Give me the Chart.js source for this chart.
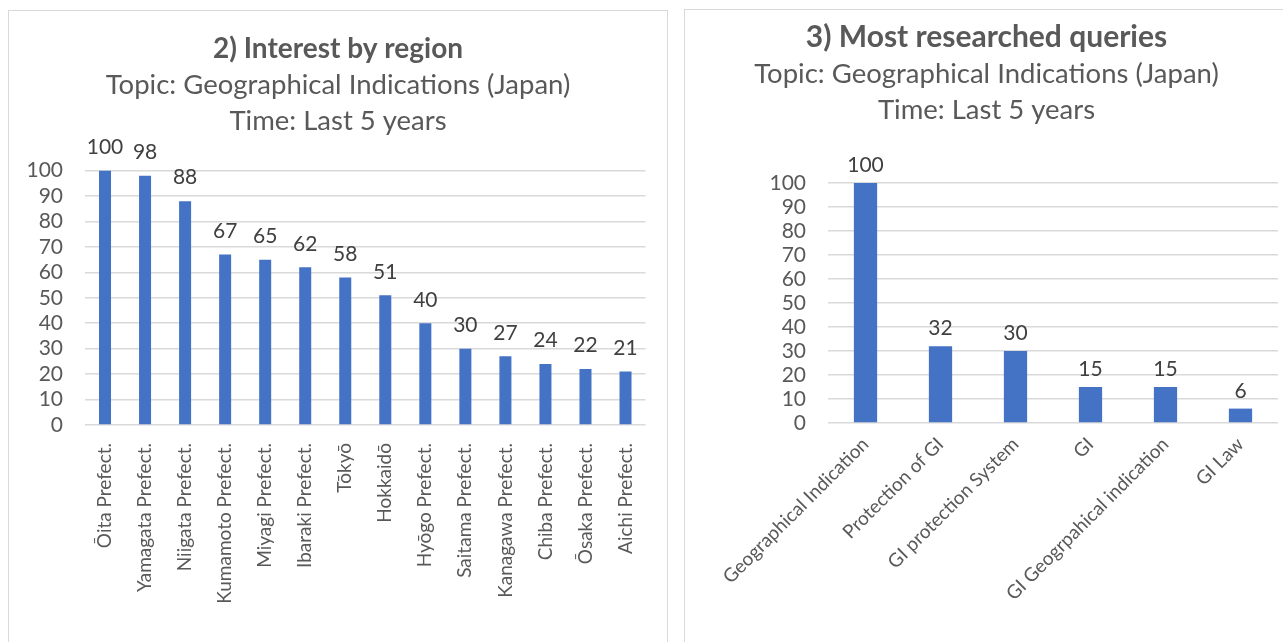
<!DOCTYPE html>
<html>
<head>
<meta charset="utf-8">
<script src="https://cdn.jsdelivr.net/npm/chart.js@4"></script>
<style>
    body { margin: 0; background: #fff; width: 1283px; height: 642px; overflow: hidden; position: relative; }
    .panel { position: absolute; border: 1px solid #d9d9d9; background: #fff; }
    #panel-region { left: 8px; top: 10px; width: 658px; height: 640px; }
    #panel-queries { left: 684px; top: 9px; width: 610px; height: 640px; }
    canvas { display: block; }
</style>
</head>
<body>
<div class="panel" id="panel-region"><canvas id="regionChart" width="658" height="631"></canvas></div>
<div class="panel" id="panel-queries"><canvas id="queriesChart" width="598" height="632"></canvas></div>

<script>
// Data
const regions = ['Ōita Prefect.', 'Yamagata Prefect.', 'Niigata Prefect.', 'Kumamoto Prefect.', 'Miyagi Prefect.',
    'Ibaraki Prefect.', 'Tōkyō', 'Hokkaidō', 'Hyōgo Prefect.', 'Saitama Prefect.', 'Kanagawa Prefect.',
    'Chiba Prefect.', 'Ōsaka Prefect.', 'Aichi Prefect.'];
const regionValues = [100, 98, 88, 67, 65, 62, 58, 51, 40, 30, 27, 24, 22, 21];

const queries = ['Geographical Indication', 'Protection of GI', 'GI protection System', 'GI',
    'GI Geogrpahical indication', 'GI Law'];
const queryValues = [100, 32, 30, 15, 15, 6];

const subtitleLines = ['Topic: Geographical Indications (Japan)', 'Time: Last 5 years'];

// Style
const FONT = "Lato, 'Open Sans', sans-serif";
const BAR_COLOR = '#4472C4';
const TEXT_COLOR = '#595959';
const GRID_COLOR = '#d9d9d9';

// value labels above each bar
const valueLabels = {
    id: 'valueLabels',
    afterDatasetsDraw(chart, args, opts) {
        const ctx = chart.ctx;
        const meta = chart.getDatasetMeta(0);
        const values = chart.data.datasets[0].data;
        ctx.save();
        ctx.font = opts.size + 'px ' + FONT;
        ctx.fillStyle = '#404040';
        ctx.textAlign = 'center';
        ctx.textBaseline = 'bottom';
        meta.data.forEach((bar, i) => {
            ctx.fillText(values[i], bar.x, bar.y - opts.offset);
        });
        ctx.restore();
    }
};

function makeChart(id, cfg) {
    const scales = {
        y: {
            min: 0,
            max: 100,
            ticks: {
                stepSize: 10,
                autoSkip: false,
                color: TEXT_COLOR,
                font: { family: FONT, size: cfg.tickSize },
                padding: 22
            },
            grid: { color: GRID_COLOR, lineWidth: 1.5, drawTicks: false },
            border: { display: false },
            afterFit: s => { s.width = cfg.yWidth; }
        },
        x: {
            ticks: {
                color: TEXT_COLOR,
                font: { family: FONT, size: cfg.xSize },
                minRotation: cfg.rotation,
                maxRotation: cfg.rotation,
                autoSkip: false,
                padding: cfg.xPad
            },
            grid: { display: false, drawTicks: false },
            border: { display: false },
            afterFit: s => { s.height = cfg.xHeight; }
        }
    };
    // empty spacer on the right so the titles stay centred on the whole panel
    if (cfg.rightGap) {
        scales.gap = {
            position: 'right',
            ticks: { display: false },
            grid: { display: false, drawTicks: false },
            border: { display: false },
            afterFit: s => { s.width = cfg.rightGap; }
        };
    }

    return new Chart(document.getElementById(id), {
        type: 'bar',
        data: {
            labels: cfg.labels,
            datasets: [{
                data: cfg.values,
                backgroundColor: BAR_COLOR,
                barPercentage: cfg.barPct,
                categoryPercentage: 1
            }]
        },
        options: {
            responsive: false,
            animation: false,
            events: [],
            layout: { padding: cfg.padding },
            plugins: {
                legend: { display: false },
                tooltip: { enabled: false },
                title: {
                    display: true,
                    text: cfg.title,
                    color: TEXT_COLOR,
                    font: { family: FONT, size: cfg.titleSize, weight: 'bold', lineHeight: 1.2 },
                    padding: { top: 0, bottom: 0 }
                },
                subtitle: {
                    display: true,
                    text: subtitleLines,
                    color: TEXT_COLOR,
                    font: { family: FONT, size: cfg.subSize, lineHeight: 36 / cfg.subSize },
                    padding: cfg.subPadding
                },
                valueLabels: { size: cfg.valueSize, offset: cfg.valueOffset }
            },
            scales: scales
        },
        plugins: [valueLabels]
    });
}

makeChart('regionChart', {
    labels: regions,
    values: regionValues,
    title: '2) Interest by region',
    titleSize: 28,
    subSize: 27.5,
    subPadding: { top: 2, bottom: 31 },
    padding: { top: 21, right: 0, left: 0, bottom: 0 },
    tickSize: 21,
    xSize: 19,
    valueSize: 21,
    valueOffset: 13,
    yWidth: 76,
    rightGap: 19,
    xHeight: 217,
    rotation: 90,
    xPad: 18,
    barPct: 0.3
});

makeChart('queriesChart', {
    labels: queries,
    values: queryValues,
    title: '3) Most researched queries',
    titleSize: 30,
    subSize: 27.5,
    subPadding: { top: 1, bottom: 55 },
    padding: { top: 9, right: 5, left: 10, bottom: 0 },
    tickSize: 21,
    xSize: 19,
    valueSize: 21,
    valueOffset: 7,
    yWidth: 133,
    xHeight: 219,
    rotation: 45,
    xPad: 10,
    barPct: 0.31
});
</script>
</body>
</html>
